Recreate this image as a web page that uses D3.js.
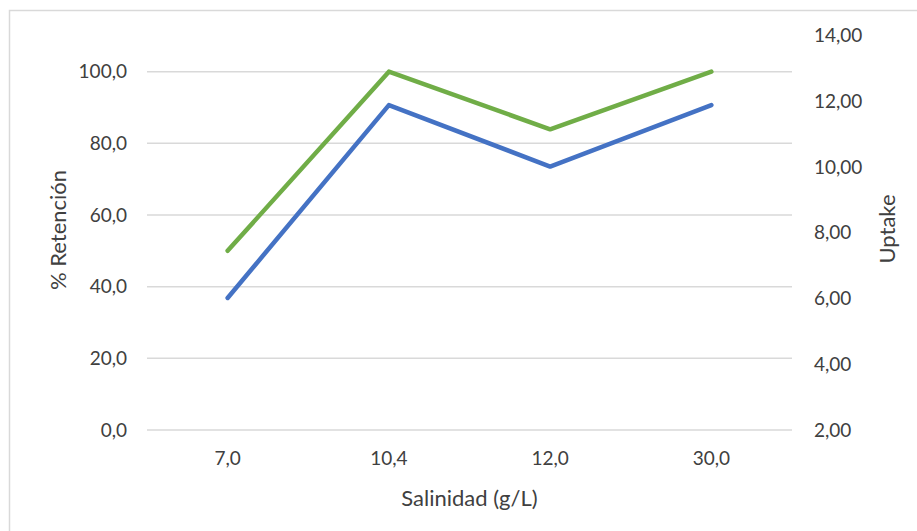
<!DOCTYPE html>
<html lang="es">
<head>
<meta charset="utf-8">
<title>Retención y Uptake vs Salinidad</title>
<script src="https://d3js.org/d3.v7.min.js"></script>
<style>
    body { margin: 0; background: #fff; }
    svg { display: block; }
    text { font-family: Lato, "Open Sans", sans-serif; fill: #404040; }
    .tick text { font-size: 19px; }
    .axis-title { font-size: 22px; }
</style>
</head>
<body>
<script>
// data
const salinidad = ["7,0", "10,4", "12,0", "30,0"];
const retencion = [50.0, 100.0, 83.9, 100.0];   // % Retención (left axis)
const uptake = [6.02, 11.89, 10.02, 11.89];     // Uptake (right axis)
const leftTicks = [0, 20, 40, 60, 80, 100];
const rightTicks = [2, 4, 6, 8, 10, 12, 14];

const W = 917, H = 531;
const plot = { left: 147, right: 792, top: 35.8, bottom: 430 };

const svg = d3.select("body").append("svg")
    .attr("width", W)
    .attr("height", H);

// chart area outline
svg.append("rect")
    .attr("x", 9.5).attr("y", 10.5)
    .attr("width", W + 20).attr("height", H + 20)
    .attr("fill", "none")
    .attr("stroke", "#d9d9d9")
    .attr("stroke-width", 1.5);

let x = d3.scaleBand()
    .domain(salinidad)
    .range([plot.left, plot.right]);

let yL = d3.scaleLinear()
    .domain([0, 110])
    .range([plot.bottom, plot.top]);

let yR = d3.scaleLinear()
    .domain([2, 14])
    .range([plot.bottom, plot.top]);

const fmt1 = d => d.toFixed(1).replace(".", ",");
const fmt2 = d => d.toFixed(2).replace(".", ",");

// gridlines
svg.append("g")
    .selectAll("line")
    .data(leftTicks)
    .join("line")
    .attr("x1", plot.left).attr("x2", plot.right)
    .attr("y1", d => yL(d)).attr("y2", d => yL(d))
    .attr("stroke", "#d9d9d9")
    .attr("stroke-width", 1.5);

// left axis
let axL = svg.append("g")
    .attr("transform", "translate(" + plot.left + ",0)")
    .call(d3.axisLeft(yL).tickValues(leftTicks).tickFormat(fmt1).tickSize(0).tickPadding(20));
axL.select(".domain").remove();

// right axis
let axR = svg.append("g")
    .attr("transform", "translate(" + plot.right + ",0)")
    .call(d3.axisRight(yR).tickValues(rightTicks).tickFormat(fmt2).tickSize(0).tickPadding(22));
axR.select(".domain").remove();

// x axis
let axX = svg.append("g")
    .attr("transform", "translate(0," + plot.bottom + ")")
    .call(d3.axisBottom(x).tickSize(0).tickPadding(22));
axX.select(".domain").remove();

svg.selectAll(".tick text")
    .attr("fill", "#404040")
    .style("font-family", "Lato, 'Open Sans', sans-serif");

// lines
const cx = d => x(d) + x.bandwidth() / 2;

let lineL = d3.line()
    .x((d, i) => cx(salinidad[i]))
    .y(d => yL(d));

let lineR = d3.line()
    .x((d, i) => cx(salinidad[i]))
    .y(d => yR(d));

svg.append("path")
    .datum(uptake)
    .attr("d", lineR)
    .attr("fill", "none")
    .attr("stroke", "#4472C4")
    .attr("stroke-width", 4.5)
    .attr("stroke-linejoin", "round")
    .attr("stroke-linecap", "round");

svg.append("path")
    .datum(retencion)
    .attr("d", lineL)
    .attr("fill", "none")
    .attr("stroke", "#70AD47")
    .attr("stroke-width", 4.5)
    .attr("stroke-linejoin", "round")
    .attr("stroke-linecap", "round");

// axis titles
svg.append("text")
    .attr("class", "axis-title")
    .attr("transform", "translate(66,230) rotate(-90)")
    .attr("text-anchor", "middle")
    .text("% Retención");

svg.append("text")
    .attr("class", "axis-title")
    .attr("transform", "translate(895,229) rotate(-90)")
    .attr("text-anchor", "middle")
    .text("Uptake");

svg.append("text")
    .attr("class", "axis-title")
    .attr("x", (plot.left + plot.right) / 2)
    .attr("y", 506)
    .attr("text-anchor", "middle")
    .text("Salinidad (g/L)");
</script>
</body>
</html>
